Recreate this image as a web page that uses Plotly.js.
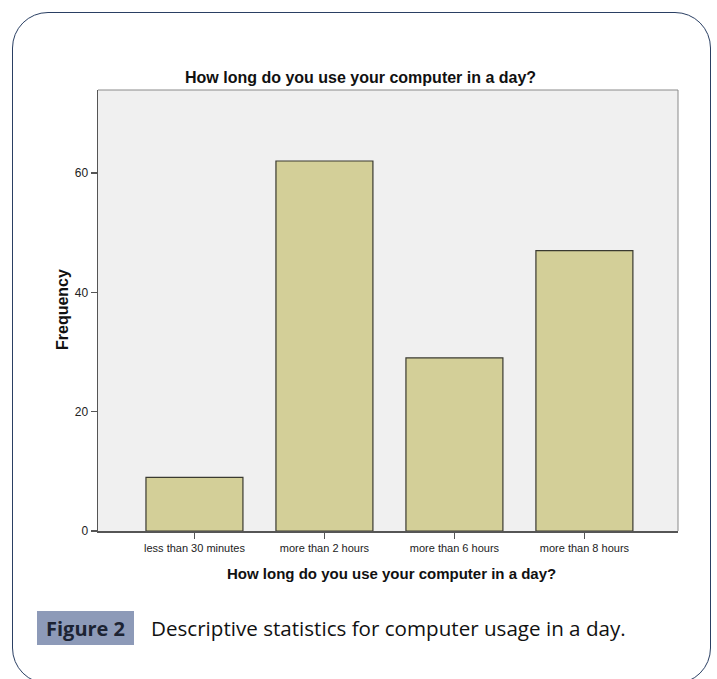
<!DOCTYPE html>
<html>
<head>
<meta charset="utf-8">
<script src="https://cdn.plot.ly/plotly-3.0.1.min.js"></script>
<style>
html,body{margin:0;padding:0;background:#fff;}
#wrap{position:relative;width:717px;height:679px;overflow:hidden;}
#frame{position:absolute;left:12px;top:12px;width:699px;height:672px;border:1.5px solid #2a3f63;border-radius:36px;box-sizing:border-box;}
#chart{position:absolute;left:0;top:0;width:717px;height:679px;}
</style>
</head>
<body>
<div id="wrap">
<div id="frame"></div>
<div id="chart"></div>
</div>
<script>
const categories = ["less than 30 minutes", "more than 2 hours", "more than 6 hours", "more than 8 hours"];
const frequencies = [9, 62, 29, 47];
const yTickValues = [0, 20, 40, 60];
const chartTitle = "How long do you use your computer in a day?";
const xTitle = "How long do you use your computer in a day?";
const yTitle = "Frequency";
const figLabel = "Figure 2";
const caption = "Descriptive statistics for computer usage in a day.";

const W = 717, H = 679;
const L = 98, R = 678, T = 90, B = 531;
const px = x => (x - L) / (R - L);
const py = y => (B - y) / (B - T);

const trace = {
  type: "bar",
  x: categories.map((c, i) => i),
  y: frequencies,
  width: 0.746,
  marker: {color: "#d3cf98", line: {color: "#3a3a30", width: 1.2}},
  hoverinfo: "none"
};

const layout = {
  width: W, height: H,
  margin: {l: L, r: W - R, t: T, b: H - B, pad: 0},
  paper_bgcolor: "rgba(0,0,0,0)",
  plot_bgcolor: "#f0f0f0",
  showlegend: false,
  font: {family: "Liberation Sans, Arial, sans-serif", color: "#222"},
  xaxis: {
    range: [-0.742, 3.72],
    tickmode: "array",
    tickvals: categories.map((c, i) => i),
    ticktext: categories,
    ticks: "outside", ticklen: 6, tickwidth: 1.2, tickcolor: "#555",
    tickfont: {size: 11, color: "#222"},
    showgrid: false, zeroline: false,
    showline: true, linecolor: "#555", linewidth: 1.5, mirror: false
  },
  yaxis: {
    range: [0, 73.9],
    tickmode: "array",
    tickvals: yTickValues,
    ticks: "outside", ticklen: 6, tickwidth: 1.2, tickcolor: "#555",
    tickfont: {size: 12, color: "#222"},
    showgrid: false, zeroline: false,
    showline: true, linecolor: "#555", linewidth: 1.5
  },
  shapes: [
    {type: "line", xref: "paper", yref: "paper", x0: 0, x1: 1, y0: 1, y1: 1, line: {color: "#8a8a8a", width: 1}},
    {type: "line", xref: "paper", yref: "paper", x0: 1, x1: 1, y0: 0, y1: 1, line: {color: "#8a8a8a", width: 1}},
    {type: "rect", xref: "paper", yref: "paper", x0: px(37), x1: px(134), y0: py(645), y1: py(611), fillcolor: "#8d9ab8", line: {width: 0}, layer: "above"}
  ],
  annotations: [
    {text: "<b>" + chartTitle + "</b>", xref: "paper", yref: "paper", x: px(360), y: py(77), xanchor: "center", yanchor: "middle", showarrow: false, font: {size: 16, color: "#111"}},
    {text: "<b>" + xTitle + "</b>", xref: "paper", yref: "paper", x: px(391), y: py(573), xanchor: "center", yanchor: "middle", showarrow: false, font: {size: 15, color: "#111"}},
    {text: "<b>" + yTitle + "</b>", xref: "paper", yref: "paper", x: px(62), y: py(310), xanchor: "center", yanchor: "middle", textangle: -90, showarrow: false, font: {size: 16, color: "#111"}},
    {text: "<b>" + figLabel + "</b>", xref: "paper", yref: "paper", x: px(85.5), y: py(628), xanchor: "center", yanchor: "middle", showarrow: false, font: {family: "Open Sans, Noto Sans, sans-serif", size: 20, color: "#1c2333"}},
    {text: caption, xref: "paper", yref: "paper", x: px(149), y: py(628), xanchor: "left", yanchor: "middle", showarrow: false, font: {family: "Open Sans, Noto Sans, sans-serif", size: 20.6, color: "#111"}}
  ]
};

Plotly.newPlot("chart", [trace], layout, {displayModeBar: false, staticPlot: true});
</script>
</body>
</html>
